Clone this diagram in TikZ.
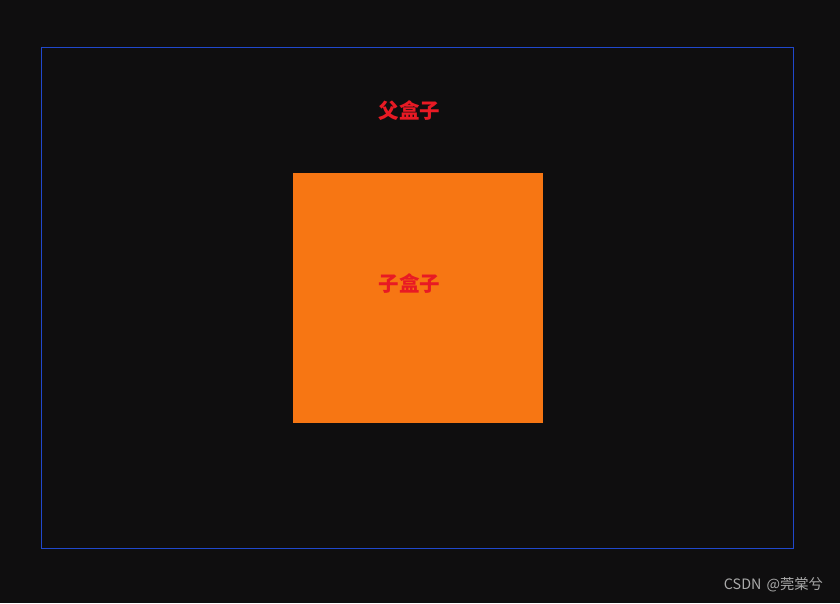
\documentclass[tikz,border=0pt]{standalone}
\usepackage{fontspec}
\newfontfamily\cjk{Noto Sans CJK SC}
\definecolor{bgdark}{RGB}{15,14,15}
\definecolor{boxblue}{RGB}{32,72,205}
\definecolor{sonorange}{RGB}{247,118,19}
\definecolor{labelred}{RGB}{232,26,36}
\definecolor{markgray}{RGB}{170,170,170}
\tikzset{
  boxlabel/.style={text=labelred,font=\cjk\bfseries\fontsize{20.5}{20.5}\selectfont,inner sep=0pt}
}

\begin{document}
\begin{tikzpicture}[x=1pt,y=-1pt]
            \fill[bgdark] (0,0) rectangle (840,603);
            \useasboundingbox (0,0) rectangle (840,603);
            \draw[boxblue,line width=1pt] (41.5,47.5) rectangle (793.5,548.5);
            \fill[sonorange] (293,173) rectangle (543,423);
            \node[boxlabel] (parent) at (409.5,111) {父盒子};
            \node[boxlabel] (child) at (409.5,284) {子盒子};
            \node[text=markgray,font=\cjk\fontsize{14.3}{14.3}\selectfont,inner sep=0pt] (mark) at (773.5,585) {CSDN\hspace{2pt} @莞棠兮};
        \end{tikzpicture}
\end{document}
